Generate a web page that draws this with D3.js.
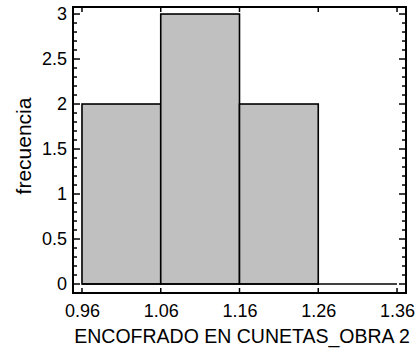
<!DOCTYPE html>
<html><head><meta charset="utf-8">
<script src="https://cdn.jsdelivr.net/npm/d3@7"></script>
<style>body{margin:0;background:#fff}svg{display:block}text{font-family:"Liberation Sans",Arial,sans-serif;fill:#000}</style>
</head><body><svg id="c" width="419" height="354"></svg>
<script>
const binEdges = [0.96, 1.06, 1.16, 1.26, 1.36];
const counts = [2, 3, 2, 0];
const xTicks = [0.96, 1.06, 1.16, 1.26, 1.36];
const yTicks = [0, 0.5, 1, 1.5, 2, 2.5, 3];
const xTitle = "ENCOFRADO EN CUNETAS_OBRA 2";
const yTitle = "frecuencia";

const L = 73, R = 406, T = 7, B = 293;
const svg = d3.select("#c");
const x = d3.scaleLinear().domain([0.9486, 1.3714]).range([L, R]);
const y = d3.scaleLinear().domain([-0.1, 3.078]).range([B, T]);

const bins = counts.map((c, i) => ({x0: binEdges[i], x1: binEdges[i+1], c}));
svg.selectAll("rect.bar").data(bins.filter(d => d.c > 0)).enter().append("rect")
  .attr("x", d => x(d.x0)).attr("width", d => x(d.x1) - x(d.x0))
  .attr("y", d => y(d.c)).attr("height", d => y(0) - y(d.c))
  .attr("fill", "#c0c0c0").attr("stroke", "#000").attr("stroke-width", 1.6);
svg.append("line").attr("x1", x(binEdges[0])).attr("x2", x(binEdges[binEdges.length-1]))
  .attr("y1", y(0)).attr("y2", y(0)).attr("stroke", "#000").attr("stroke-width", 1.6);

const yMinor = d3.range(0, 31).map(i => i / 10);
const g = svg.append("g").attr("stroke", "#000").attr("stroke-width", 1.5);
yMinor.forEach(v => {
  const major = Math.abs(v * 2 - Math.round(v * 2)) < 1e-6;
  const len = major ? 7 : 4;
  g.append("line").attr("x1", L).attr("x2", L + len).attr("y1", y(v)).attr("y2", y(v));
  g.append("line").attr("x1", R).attr("x2", R - len).attr("y1", y(v)).attr("y2", y(v));
});
xTicks.forEach(v => {
  g.append("line").attr("x1", x(v)).attr("x2", x(v)).attr("y1", B).attr("y2", B - 5);
  g.append("line").attr("x1", x(v)).attr("x2", x(v)).attr("y1", T).attr("y2", T + 5);
});

svg.append("rect").attr("x", L).attr("y", T).attr("width", R - L).attr("height", B - T)
  .attr("fill", "none").attr("stroke", "#000").attr("stroke-width", 2);

const yAxis = svg.append("g").attr("transform", `translate(${L - 6},0)`)
  .call(d3.axisLeft(y).tickValues(yTicks).tickSize(0).tickPadding(0).tickFormat(d3.format("")));
yAxis.select(".domain").remove();
yAxis.selectAll("text").attr("font-size", 18).attr("font-family", "Liberation Sans, Arial, sans-serif");

const xAxis = svg.append("g").attr("transform", `translate(0,${B})`)
  .call(d3.axisBottom(x).tickValues(xTicks).tickSize(0).tickPadding(0).tickFormat(d3.format(".2f")));
xAxis.select(".domain").remove();
xAxis.selectAll("text").attr("font-size", 18).attr("dy", null).attr("y", 24)
  .attr("font-family", "Liberation Sans, Arial, sans-serif");

svg.append("text").attr("x", 242).attr("y", 343).attr("text-anchor", "middle")
  .attr("font-size", 19.5).text(xTitle);
svg.append("text").attr("transform", "translate(31,146) rotate(-90)").attr("text-anchor", "middle")
  .attr("font-size", 21).text(yTitle);
</script></body></html>
